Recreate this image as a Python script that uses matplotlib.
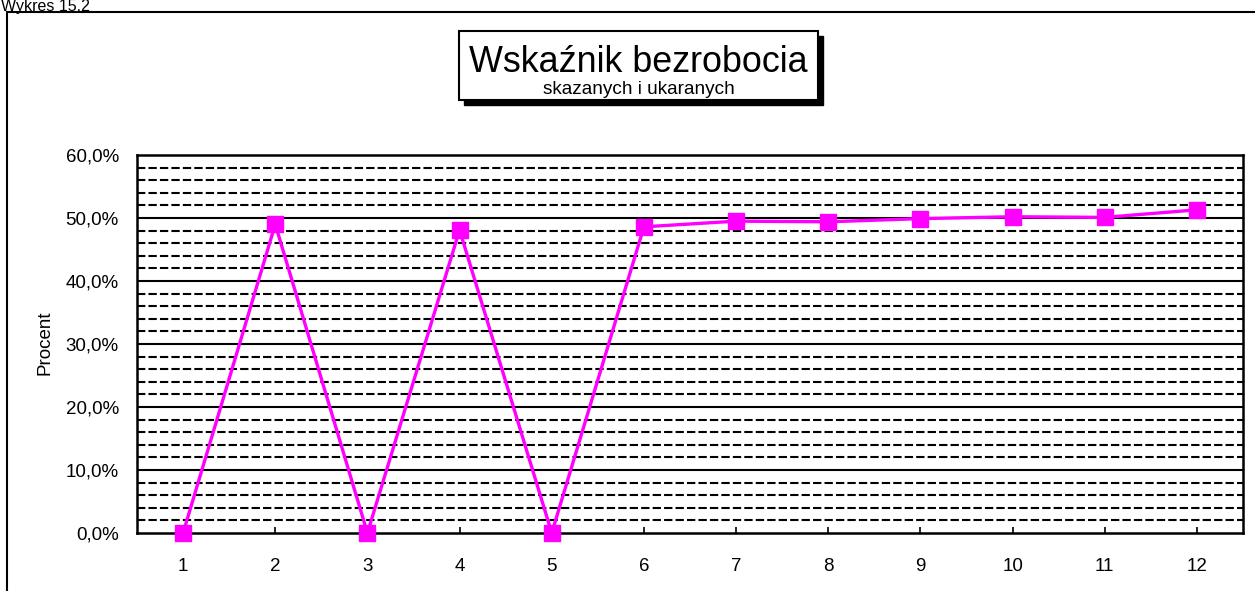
import matplotlib
matplotlib.use("Agg")
import matplotlib.pyplot as plt
from matplotlib.patches import Rectangle
import numpy as np

plt.rcParams['font.family'] = ['Liberation Sans', 'DejaVu Sans']

categories = ["1", "2", "3", "4", "5", "6", "7", "8", "9", "10", "11", "12"]
values = [0.0, 49.0, 0.0, 48.1, 0.0, 48.6, 49.5, 49.4, 49.9, 50.2, 50.1, 51.3]
ytick_labels = ["0,0%", "10,0%", "20,0%", "30,0%", "40,0%", "50,0%", "60,0%"]
title = "Wskaźnik bezrobocia"
subtitle = "skazanych i ukaranych"
ylabel = "Procent"
caption = "Wykres 15.2"

W, H = 1255, 591
fig = plt.figure(figsize=(W / 100, H / 100), dpi=100)

def fx(x):
    return x / W

def fy(y):
    return 1 - y / H

# outer chart frame
fig.patches.append(Rectangle((fx(7), fy(640)), fx(1300) - fx(7), fy(12) - fy(640),
                             transform=fig.transFigure, fill=False,
                             edgecolor='black', linewidth=1.5, zorder=0))
fig.text(fx(1), fy(11), caption, fontsize=11.5, ha='left', va='baseline')

left, right, top, bottom = 137, 1243, 155, 533
ax = fig.add_axes([fx(left), fy(bottom), fx(right - left), fy(top) - fy(bottom)])

x = np.arange(1, len(categories) + 1)
ax.set_xlim(0.5, len(categories) + 0.5)
ax.set_ylim(0, 60)

# gridlines
for v in np.arange(2, 60, 2):
    if v % 10 == 0:
        ax.axhline(v, color='black', lw=1.5, zorder=1)
    else:
        ax.axhline(v, color='black', lw=1.5, ls=(0, (4, 1.5)), zorder=1)

ax.plot(x, values, color='#FF00FF', lw=2.4, marker='s', markersize=11.5,
        markerfacecolor='#FF00FF', markeredgecolor='#FF00FF', zorder=3, clip_on=False)

ax.set_xticks(x)
ax.set_xticklabels(categories, fontsize=13.5)
ax.set_yticks(np.arange(0, 61, 10))
ax.set_yticklabels(ytick_labels, fontsize=13.5)
ax.tick_params(axis='x', direction='in', length=4, width=1.2, pad=18)
ax.tick_params(axis='y', length=0, pad=13)
for s in ax.spines.values():
    s.set_linewidth(1.8)
    s.set_color('black')

fig.text(fx(45), fy(343), ylabel, rotation=90, fontsize=13.5, ha='center', va='center')

# title box with shadow
bx0, by0, bx1, by1 = 459, 31, 818, 100
fig.patches.append(Rectangle((fx(bx0 + 5), fy(by1 + 5)), fx(bx1 - bx0), fy(by0) - fy(by1),
                             transform=fig.transFigure, facecolor='black', edgecolor='black',
                             zorder=5))
fig.patches.append(Rectangle((fx(bx0), fy(by1)), fx(bx1 - bx0), fy(by0) - fy(by1),
                             transform=fig.transFigure, facecolor='white', edgecolor='black',
                             linewidth=1.5, zorder=6))
fig.text(fx((bx0 + bx1) / 2), fy(72), title, fontsize=25.8, ha='center', va='baseline', zorder=7)
fig.text(fx((bx0 + bx1) / 2), fy(94), subtitle, fontsize=13.7, ha='center', va='baseline', zorder=7)

fig.savefig("out.png", dpi=100)
